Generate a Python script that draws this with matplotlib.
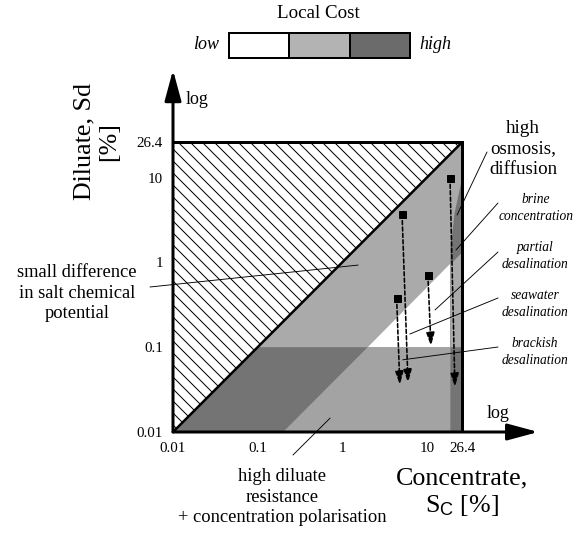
import numpy as np
import matplotlib.pyplot as plt
from matplotlib.patches import Polygon

plt.rcParams['font.family'] = ['Liberation Serif', 'DejaVu Serif']
plt.rcParams['mathtext.fontset'] = 'custom'
plt.rcParams['mathtext.rm'] = 'Liberation Serif'
plt.rcParams['mathtext.it'] = 'Liberation Serif:italic'
plt.rcParams['mathtext.sf'] = 'Liberation Sans'
plt.rcParams['hatch.linewidth'] = 1.0

# axis values
s_min = 0.01
s_max = 26.4
tick_vals = [0.01, 0.1, 1, 10, 26.4]
tick_labels = ['0.01', '0.1', '1', '10', '26.4']

# region boundaries (salinity, %)
sd_resist = 0.1          # below this the diluate resistance is high
ratio = 20               # Sd > Sc/ratio -> small chemical potential difference
sc_osmosis = 19          # above this osmosis / diffusion is high
osm_curve_sc = [19, 19.8, 21.3, 23.5, 26.4]
osm_curve_sd = [1.5, 2.0, 3.8, 6.0, 10.3]

# operating points: start (square) -> end (arrow tip)
proc_sc0 = [18.8, 5.1, 10.3, 4.4]
proc_sd0 = [9.9, 3.7, 0.71, 0.38]
proc_sc1 = [21.5, 6.0, 11.2, 4.8]
proc_sd1 = [0.034, 0.038, 0.103, 0.036]

cost_labels = ['low', 'high']
cost_colors = ['#ffffff', '#b3b3b3', '#6b6b6b']

W, H = 583, 533
fig = plt.figure(figsize=(W / 72, H / 72), dpi=72)


def fp(x, y):
    # figure pixel (top-left origin) -> figure fraction
    return x / W, 1 - y / H


ax = fig.add_axes([173 / W, (H - 432) / H, 375 / W, 374 / H])
ax.set_xscale('log')
ax.set_yscale('log')
ax.set_xlim(s_min, s_min * 10 ** (375 / 84.6))
ax.set_ylim(s_min, s_min * 10 ** (374 / 84.8))
for sp in ax.spines.values():
    sp.set_visible(False)
ax.minorticks_off()
ax.set_xticks(tick_vals, tick_labels, fontsize=15)
ax.set_yticks(tick_vals, tick_labels, fontsize=15)
ax.tick_params(length=0, pad=10)

light = '#aaaaaa'
mid = '#a3a3a3'
dark = '#747474'

regions = [
    ([(s_min, s_min), (s_max, s_max), (s_max, s_min)], light),
    ([(s_min, s_min), (sd_resist, sd_resist), (s_max, sd_resist), (s_max, s_min)], mid),
    ([(s_min, s_min), (sd_resist, sd_resist), (sd_resist * ratio, sd_resist),
      (s_min * ratio, s_min)], dark),
    ([(sd_resist * ratio, sd_resist), (sc_osmosis, sd_resist),
      (sc_osmosis, sc_osmosis / ratio)], 'white'),
    ([(sc_osmosis, s_min)] + list(zip(osm_curve_sc, osm_curve_sd)) + [(s_max, s_min)], dark),
    ([(sc_osmosis, sd_resist), (s_max, sd_resist), (s_max, s_max / ratio),
      (sc_osmosis, sc_osmosis / ratio)], light),
]
for pts, c in regions:
    ax.add_patch(Polygon(pts, closed=True, facecolor=c, edgecolor='none', lw=0))

ax.add_patch(Polygon([(s_min, s_min), (s_min, s_max), (s_max, s_max)], closed=True,
                     facecolor='white', edgecolor='black', lw=0, hatch='\\\\'))

ax.plot([s_min, s_max], [s_min, s_max], color='black', lw=2.5, solid_capstyle='butt')
ax.plot([s_min, s_max, s_max], [s_max, s_max, s_min], color='black', lw=3,
        solid_joinstyle='miter')

for tip in [(208, s_min), (s_min, 186)]:
    ax.annotate('', xy=tip, xytext=(s_min, s_min),
                arrowprops=dict(arrowstyle='-|>,head_length=1.3,head_width=0.35',
                                lw=3, color='black', mutation_scale=20,
                                shrinkA=0, shrinkB=0))

for x0, y0, x1, y1 in zip(proc_sc0, proc_sd0, proc_sc1, proc_sd1):
    ax.annotate('', xy=(x1, y1), xytext=(x0, y0),
                arrowprops=dict(arrowstyle='-|>,head_length=0.8,head_width=0.25',
                                lw=1.6, color='black', linestyle=(0, (2.5, 1.5)),
                                mutation_scale=14, shrinkA=0, shrinkB=0))
    ax.plot(x0, y0, 's', color='black', ms=7)

# annotations
notes = [
    ('high\nosmosis,\ndiffusion', (523, 149), 19, 'normal', (487, 152), (22.8, 3.62)),
    ('brine\nconcentration', (536, 208), 13.5, 'italic', (498, 203), (22.1, 1.40)),
    ('partial\ndesalination', (535, 256), 13.5, 'italic', (498, 252), (12.5, 0.275)),
    ('seawater\ndesalination', (535, 304), 13.5, 'italic', (498, 298), (6.3, 0.143)),
    ('brackish\ndesalination', (535, 352), 13.5, 'italic', (498, 347), (5.2, 0.071)),
    ('small difference\nin salt chemical\npotential', (77, 293), 18.5, 'normal',
     (150, 287), (1.54, 0.93)),
    ('high diluate\nresistance\n+ concentration polarisation', (282, 497), 18.5, 'normal',
     (293, 455), (0.72, 0.0146)),
]
for txt, pos, fs, style, start, target in notes:
    ls = 1.4 if style == 'italic' else 1.25
    fig.text(*fp(*pos), txt, fontsize=fs, style=style, ha='center', va='center',
             multialignment='center', linespacing=ls)
    ax.annotate('', xy=target, xytext=fp(*start), textcoords='figure fraction',
                arrowprops=dict(arrowstyle='-', lw=0.9, color='black',
                                shrinkA=0, shrinkB=0))

fig.text(*fp(186, 100), 'log', fontsize=18, ha='left', va='center')
fig.text(*fp(487, 413), 'log', fontsize=18, ha='left', va='center')

fig.text(*fp(462, 493), 'Concentrate,\nS$_{\\mathsf{C}}$ [%]', fontsize=26,
         ha='center', va='center', multialignment='center', linespacing=1.2)
fig.text(*fp(97, 142), 'Diluate, Sd\n[%]', fontsize=26, rotation=90,
         ha='center', va='center', multialignment='center', linespacing=1.15)

# local cost legend
lax = fig.add_axes([229 / W, (H - 58) / H, 181 / W, 25 / H])
lax.bar(range(3), [1, 1, 1], width=1, color=cost_colors, edgecolor='black', lw=2)
lax.set_xlim(-0.5, 2.5)
lax.set_ylim(0, 1)
lax.set_xticks([])
lax.set_yticks([])
for sp in lax.spines.values():
    sp.set_linewidth(2)
fig.text(*fp(318, 14), 'Local Cost', fontsize=19, ha='center', va='center')
fig.text(*fp(219, 45), cost_labels[0], fontsize=18, style='italic', ha='right', va='center')
fig.text(*fp(419, 45), cost_labels[1], fontsize=18, style='italic', ha='left', va='center')

fig.savefig('out.png', dpi=72)
